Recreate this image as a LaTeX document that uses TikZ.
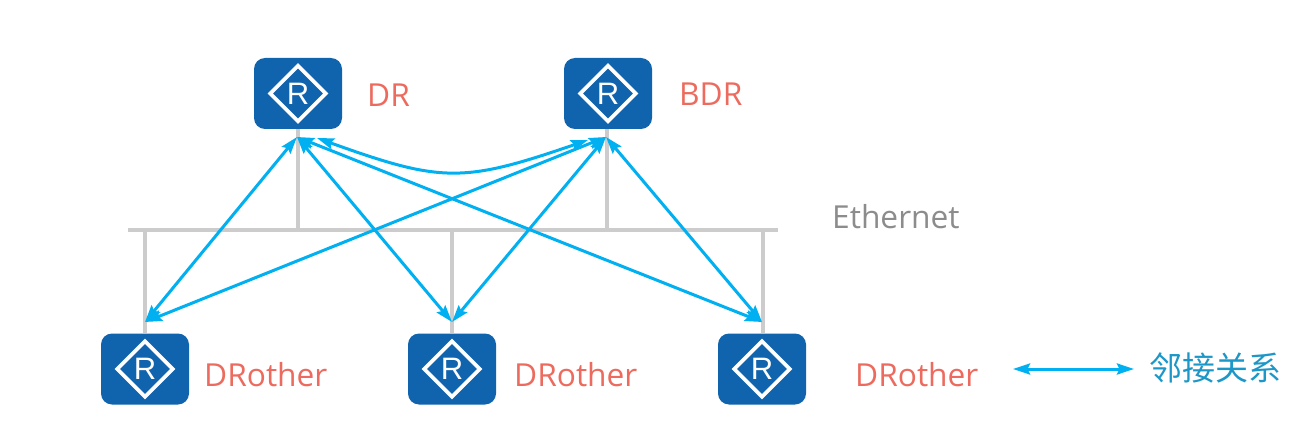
\documentclass[tikz,border=0pt]{standalone}
\usepackage{fontspec}
\setmainfont{Open Sans}
\newfontfamily\cjk{Noto Sans CJK SC}
\newfontfamily\rfont{Liberation Sans}
\usetikzlibrary{shapes.geometric,arrows.meta}
\definecolor{rblue}{HTML}{1063AD}
\definecolor{link}{HTML}{00B0F0}
\definecolor{busgray}{HTML}{CCCCCC}
\definecolor{lab}{HTML}{EC6B5E}
\definecolor{ethc}{HTML}{8C8C8C}
\definecolor{legc}{HTML}{1C97C7}
\tikzset{
  x=1pt,y=-1pt,
  routerbox/.style={fill=rblue,draw=none,rounded corners=11pt,minimum width=88pt,minimum height=71pt,inner sep=0pt},
  routermark/.style={diamond,draw=white,line width=3.6pt,aspect=1,minimum width=57pt,minimum height=57pt,inner sep=0pt,text=white,font=\rfont\fontsize{31}{31}\selectfont},
  bus/.style={draw=busgray,line width=4pt},
  adj/.style={draw=link,line width=3pt,{Stealth[length=17pt,width=11pt,inset=2.5pt]}-{Stealth[length=17pt,width=11pt,inset=2.5pt]}},
  rolelabel/.style={anchor=base west,inner sep=0pt,text=lab,font=\fontsize{31.7}{32}\selectfont},
}
\begin{document}
\begin{tikzpicture}
\useasboundingbox (0,0) rectangle (1301,441);
% bus
\coordinate (busl) at (128,230);
\coordinate (busr) at (778,230);
\draw[bus] (busl) -- (busr);
\coordinate (jdr) at (297.5,230);
\coordinate (jbdr) at (606.5,230);
\coordinate (ja) at (145,230);
\coordinate (jb) at (451.5,230);
\coordinate (jc) at (763,230);
% routers
\node[routerbox] (dr) at (298,93.5) {};
\node[routerbox] (bdr) at (608,93.5) {};
\node[routerbox] (ra) at (145,369) {};
\node[routerbox] (rb) at (452,369) {};
\node[routerbox] (rc) at (762,369) {};
\draw[bus] (jdr) -- (jdr |- dr.south);
\draw[bus] (jbdr) -- (jbdr |- bdr.south);
\draw[bus] (ja) -- (ja |- ra.north);
\draw[bus] (jb) -- (jb |- rb.north);
\draw[bus] (jc) -- (jc |- rc.north);
\node[routermark] (drm) at (dr) {R};
\node[routermark] (bdrm) at (bdr) {R};
\node[routermark] (ram) at (ra) {R};
\node[routermark] (rbm) at (rb) {R};
\node[routermark] (rcm) at (rc) {R};
% labels
\node[rolelabel] (tdr) at (367,106.5) {DR};
\node[rolelabel] (tbdr) at (679,105.5) {BDR};
\node[rolelabel] (ta) at (204,386) {DRother};
\node[rolelabel] (tb) at (514,386) {DRother};
\node[rolelabel] (tc) at (855,386) {DRother};
\node[anchor=base west,inner sep=0pt,text=ethc,font=\fontsize{31.7}{32}\selectfont] (teth) at (832,228) {Ethernet};
% adjacency ends
\coordinate (hdr) at (297,137);
\coordinate (hdrb) at (317,138);
\coordinate (hbdr) at (606,137);
\coordinate (hbdrb) at (588,140);
\coordinate (ha) at (145,322);
\coordinate (hb) at (452,322);
\coordinate (hc) at (762,322);
\draw[adj] (hdr) -- (ha);
\draw[adj] (hdr) -- (hb);
\draw[adj] (hdr) -- (hc);
\draw[adj] (hbdr) -- (ha);
\draw[adj] (hbdr) -- (hb);
\draw[adj] (hbdr) -- (hc);
\draw[adj] (hdrb) .. controls (442,183) and (463,183) .. (hbdrb);
% legend
\coordinate (legl) at (1013,369);
\coordinate (legr) at (1134,369);
\draw[adj] (legl) -- (legr);
\node[anchor=west,inner sep=0pt,text=legc,font=\cjk\fontsize{33}{33}\selectfont] (tleg) at (1149,368) {邻接关系};
\end{tikzpicture}
\end{document}
